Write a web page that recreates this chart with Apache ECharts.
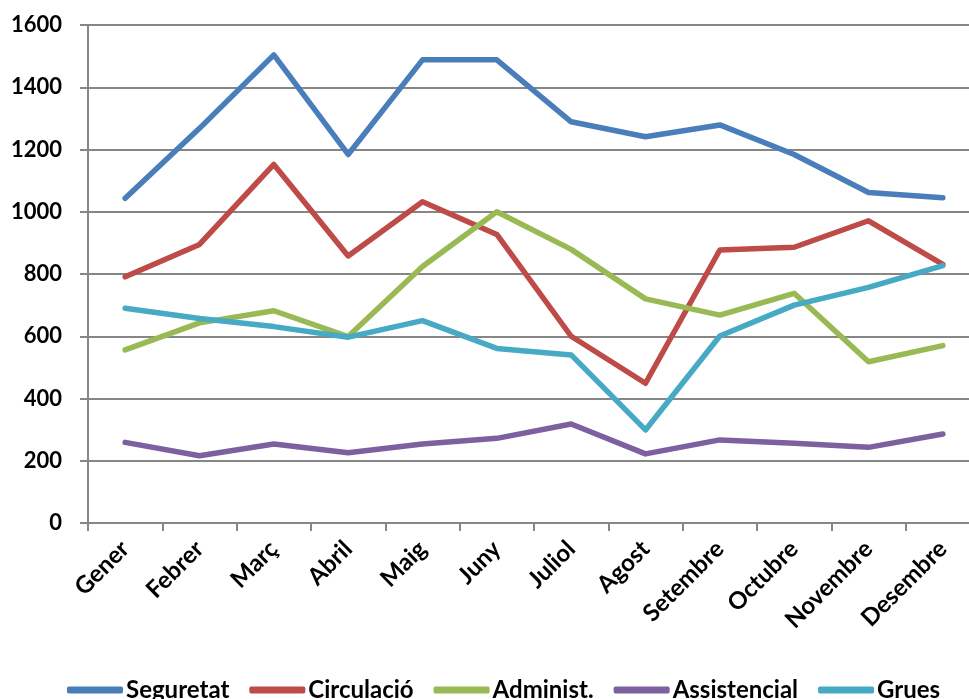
<!DOCTYPE html>
<html>
<head>
<meta charset="utf-8">
<script src="https://cdn.jsdelivr.net/npm/echarts@6/dist/echarts.min.js"></script>
<style>
  html, body { margin: 0; padding: 0; background: #fff; overflow: hidden; }
  /* a little wider than the window: the original plot is cut off on the right */
  #chart { width: 981px; height: 699px; }
</style>
</head>
<body>
<div id="chart"></div>
<script>
var months = ['Gener', 'Febrer', 'Març', 'Abril', 'Maig', 'Juny', 'Juliol', 'Agost', 'Setembre', 'Octubre', 'Novembre', 'Desembre'];

var seguretat    = [1043, 1268, 1504, 1184, 1488, 1488, 1289, 1241, 1279, 1184, 1062, 1045];
var circulacio   = [791, 895, 1152, 858, 1032, 927, 600, 449, 877, 886, 971, 831];
var administ     = [556, 643, 682, 599, 824, 1000, 879, 720, 668, 738, 518, 570];
var assistencial = [259, 216, 254, 226, 254, 272, 318, 222, 267, 256, 243, 286];
var grues        = [690, 657, 631, 597, 650, 561, 540, 299, 601, 700, 757, 827];

var yTicks = { min: 0, max: 1600, interval: 200 };

var font = 'Lato';
var gray = '#868686';

function mkSeries(name, data, color) {
  return {
    type: 'line',
    name: name,
    data: data,
    symbol: 'none',
    lineStyle: { color: color, width: 5.5, cap: 'round', join: 'round' },
    itemStyle: { color: color }
  };
}

var chart = echarts.init(document.getElementById('chart'));
chart.setOption({
  animation: false,
  grid: { left: 88, right: 1, top: 25, bottom: 176, containLabel: false },
  legend: {
    top: 673,
    left: 62,
    icon: 'roundRect',
    itemWidth: 56,
    itemHeight: 7,
    itemGap: 20,
    textStyle: { fontFamily: font, fontWeight: 'bold', fontSize: 24, color: '#000', padding: [0, 0, 0, -2] },
    data: ['Seguretat', 'Circulació', 'Administ.', 'Assistencial', 'Grues']
  },
  xAxis: {
    type: 'category',
    data: months,
    boundaryGap: true,
    axisLine: { lineStyle: { color: gray, width: 2 } },
    axisTick: { show: true, length: 8, lineStyle: { color: gray, width: 2 } },
    axisLabel: {
      rotate: 45,
      margin: 22,
      interval: 0,
      fontFamily: font,
      fontWeight: 'bold',
      fontSize: 24,
      color: '#000'
    }
  },
  yAxis: {
    type: 'value',
    min: yTicks.min,
    max: yTicks.max,
    interval: yTicks.interval,
    axisLine: { show: true, lineStyle: { color: gray, width: 2 } },
    axisTick: { show: true, length: 8, lineStyle: { color: gray, width: 2 } },
    splitLine: { lineStyle: { color: gray, width: 2 } },
    axisLabel: {
      margin: 26,
      fontFamily: font,
      fontWeight: 'bold',
      fontSize: 22,
      color: '#000',
      formatter: function (v) { return String(v); }
    }
  },
  series: [
    mkSeries('Seguretat', seguretat, '#4a7ebb'),
    mkSeries('Circulació', circulacio, '#be4b48'),
    mkSeries('Administ.', administ, '#98b954'),
    mkSeries('Assistencial', assistencial, '#7d60a0'),
    mkSeries('Grues', grues, '#46aac5')
  ]
});
</script>
</body>
</html>
